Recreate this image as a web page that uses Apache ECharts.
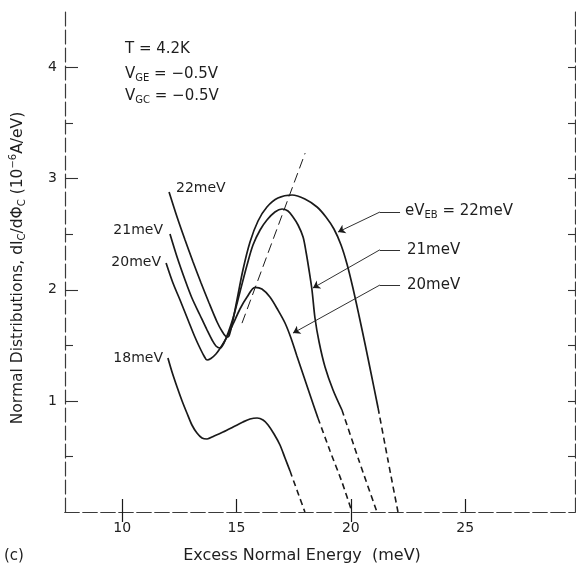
<!DOCTYPE html>
<html><head><meta charset="utf-8">
<script src="https://cdn.jsdelivr.net/npm/echarts@6/dist/echarts.min.js"></script>
<style>html,body{margin:0;padding:0;background:#fff}#c{width:576px;height:567px}</style>
</head><body><div id="c"></div>
<script>
// ---- tick labels ----
const xTickValues = [10, 15, 20, 25];
const xTopTickValues = [10, 20];
const yTickValues = [1, 2, 3, 4];
const yHalfTickValues = [0.5, 1.5, 2.5, 3.5];
const yRightTickValues = [0.5, 1, 1.5, 2, 2.5, 3, 3.5, 4];

// ---- curves (x: excess normal energy meV, y: 1e-6 A/eV) ----
const curve22 = [[12.05,2.88],[12.40,2.655],[12.75,2.448],[13.10,2.25],[13.45,2.061],[13.80,1.881],[14.15,1.71],[14.36,1.629],[14.58,1.575],[14.67,1.584],[14.80,1.683],[15.02,1.908],[15.28,2.178],[15.59,2.43],[15.94,2.619],[16.33,2.745],[16.81,2.826],[17.43,2.853],[17.99,2.817],[18.52,2.745],[18.91,2.655],[19.26,2.547],[19.57,2.403],[19.83,2.232],[20.09,2.016],[20.36,1.764],[20.62,1.512],[20.88,1.251],[21.19,0.936]];
const curve22Tail = [[21.19,0.936],[21.62,0.468],[22.06,0]];
const curve21 = [[12.09,2.502],[12.40,2.295],[12.75,2.088],[13.05,1.926],[13.40,1.773],[13.71,1.638],[13.93,1.548],[14.10,1.494],[14.28,1.476],[14.45,1.521],[14.63,1.611],[14.85,1.746],[15.15,1.98],[15.46,2.223],[15.72,2.403],[16.03,2.538],[16.33,2.628],[16.68,2.70],[16.99,2.727],[17.25,2.709],[17.47,2.655],[17.69,2.583],[17.91,2.475],[18.04,2.34],[18.17,2.178],[18.30,1.998],[18.43,1.746],[18.61,1.53],[18.87,1.305],[19.22,1.098],[19.61,0.918]];
const curve21Tail = [[19.61,0.918],[20.36,0.459],[21.14,0]];
const curve20 = [[11.92,2.241],[12.22,2.061],[12.53,1.908],[12.88,1.728],[13.18,1.575],[13.40,1.476],[13.58,1.404],[13.71,1.368],[13.88,1.382],[14.10,1.422],[14.32,1.485],[14.58,1.575],[14.85,1.692],[15.15,1.827],[15.46,1.935],[15.81,2.022],[16.11,2.007],[16.46,1.935],[16.81,1.818],[17.12,1.701],[17.38,1.566],[17.64,1.404],[17.95,1.215],[18.26,1.026],[18.56,0.846]];
const curve20Tail = [[18.56,0.846],[19.09,0.549],[19.61,0.27],[20.05,0]];
const curve18 = [[12.00,1.386],[12.18,1.26],[12.40,1.125],[12.62,0.999],[12.83,0.891],[13.05,0.783],[13.27,0.711],[13.49,0.666],[13.71,0.657],[14.02,0.684],[14.41,0.72],[14.85,0.765],[15.28,0.81],[15.59,0.837],[15.90,0.846],[16.16,0.828],[16.38,0.783],[16.64,0.702],[16.90,0.603],[17.12,0.486],[17.34,0.369]];
const curve18Tail = [[17.34,0.369],[17.64,0.198],[17.99,0]];
const peakLine = [[15.24,1.70],[18.0,3.23]];

// ---- arrows (label end -> bend -> tip) ----
const arrow22 = [[22.15,2.70],[21.27,2.70],[19.44,2.52]];
const arrow21 = [[22.15,2.36],[21.27,2.36],[18.34,2.016]];
const arrow20 = [[22.15,2.043],[21.27,2.043],[17.47,1.61]];

const chart = echarts.init(document.getElementById('c'), null, {renderer: 'canvas'});
const ink = '#1a1a1a';
const frame = {show: true, lineStyle: {color: '#3a3a3a', width: 1.2, type: [14, 4]}};
const fontFam = '"DejaVu Sans", "Liberation Sans", sans-serif';

function solid(d) {
  return {type: 'line', data: d, smooth: 0.3, showSymbol: false, symbol: 'none',
    lineStyle: {color: ink, width: 1.7}, z: 3, animation: false};
}
function dashed(d) {
  return {type: 'line', data: d, smooth: 0.2, showSymbol: false, symbol: 'none',
    lineStyle: {color: ink, width: 1.6, type: [6, 4]}, z: 3, animation: false};
}
const arrows = [arrow22, arrow21, arrow20];

const option = {
  backgroundColor: '#fff',
  animation: false,
  grid: {left: 65, top: 12, width: 510, height: 500},
  xAxis: [
    {type: 'value', position: 'bottom', min: 7.5, max: 29.8,
      axisLine: frame, splitLine: {show: false},
      axisTick: {show: true, inside: true, length: 13, customValues: xTickValues, lineStyle: {color: ink, width: 1.2}},
      axisLabel: {customValues: xTickValues, margin: 9, color: '#222', fontSize: 14, fontFamily: fontFam}},
    {type: 'value', position: 'top', min: 7.5, max: 29.8,
      axisLine: frame, splitLine: {show: false},
      axisTick: {show: true, inside: true, length: 10, customValues: xTopTickValues, lineStyle: {color: ink, width: 1.2}},
      axisLabel: {show: false}}
  ],
  yAxis: [
    {type: 'value', position: 'left', min: 0, max: 4.5,
      axisLine: frame, splitLine: {show: false},
      axisTick: {show: true, inside: true, length: 13, customValues: yTickValues, lineStyle: {color: '#333', width: 1.1}},
      axisLabel: {customValues: yTickValues, margin: 8, color: '#222', fontSize: 14, fontFamily: fontFam}},
    {type: 'value', position: 'right', min: 0, max: 4.5,
      axisLine: frame, splitLine: {show: false},
      axisTick: {show: true, inside: true, length: 7, customValues: yRightTickValues, lineStyle: {color: '#333', width: 1.1}},
      axisLabel: {show: false}},
    {type: 'value', position: 'left', min: 0, max: 4.5,
      axisLine: {show: false}, splitLine: {show: false},
      axisTick: {show: true, inside: true, length: 8, customValues: yHalfTickValues, lineStyle: {color: '#333', width: 1.1}},
      axisLabel: {show: false}}
  ],
  series: [
    solid(curve22), dashed(curve22Tail),
    solid(curve21), dashed(curve21Tail),
    solid(curve20), dashed(curve20Tail),
    solid(curve18), dashed(curve18Tail),
    {type: 'line', data: peakLine, showSymbol: false, symbol: 'none',
      lineStyle: {color: ink, width: 1, type: [10, 5]}, z: 2},
    {type: 'lines', coordinateSystem: 'cartesian2d', symbol: ['none', 'none'],
      lineStyle: {color: ink, width: 0.9, opacity: 1},
      data: arrows.map(a => ({coords: [a[0], a[1]]})), z: 4},
    {type: 'lines', coordinateSystem: 'cartesian2d', symbol: ['none', 'arrow'], symbolSize: [0, 7],
      lineStyle: {color: ink, width: 0.9, opacity: 1},
      data: arrows.map(a => ({coords: [a[1], a[2]]})), z: 4}
  ]
};
chart.setOption(option);

// ---- text annotations ----
const richSub = {
  m: {fontSize: 15, fontFamily: fontFam, verticalAlign: 'middle', fill: '#1e1e1e'},
  s: {fontSize: 10, fontFamily: fontFam, verticalAlign: 'middle', padding: [9, 0, 0, 0], fill: '#1e1e1e'},
  p: {fontSize: 10, fontFamily: fontFam, verticalAlign: 'middle', padding: [0, 0, 9, 0], fill: '#1e1e1e'}
};
function txt(x, y, text, align, size, rot) {
  const r = {};
  for (const k in richSub) r[k] = Object.assign({}, richSub[k]);
  if (size) { r.m.fontSize = size; }
  return {type: 'text', x: x, y: y, rotation: rot || 0, silent: true,
    style: {text: text, rich: r, align: align || 'left', verticalAlign: 'middle', fontSize: size || 15, fontFamily: fontFam, fill: '#1e1e1e'}};
}
chart.setOption({graphic: [
  txt(125, 49, '{m|T = 4.2K}'),
  txt(125, 74, '{m|V}{s|GE}{m| = −0.5V}'),
  txt(125, 96, '{m|V}{s|GC}{m| = −0.5V}'),
  txt(176, 188, '{m|22meV}', 'left', 14),
  txt(163, 230, '{m|21meV}', 'right', 14),
  txt(161, 262, '{m|20meV}', 'right', 14),
  txt(163, 358, '{m|18meV}', 'right', 14),
  txt(405, 211, '{m|eV}{s|EB}{m| = 22meV}'),
  txt(407, 250, '{m|21meV}'),
  txt(407, 285, '{m|20meV}'),
  txt(302, 556, '{m|Excess Normal Energy  (meV)}', 'center', 16),
  txt(4, 556, '{m|(c)}', 'left', 15),
  txt(18, 268, '{m|Normal Distributions, dI}{s|C}{m|/dΦ}{s|C}{m| (10}{p|−6}{m|A/eV)}', 'center', 15.5, Math.PI / 2)
]});
</script></body></html>
